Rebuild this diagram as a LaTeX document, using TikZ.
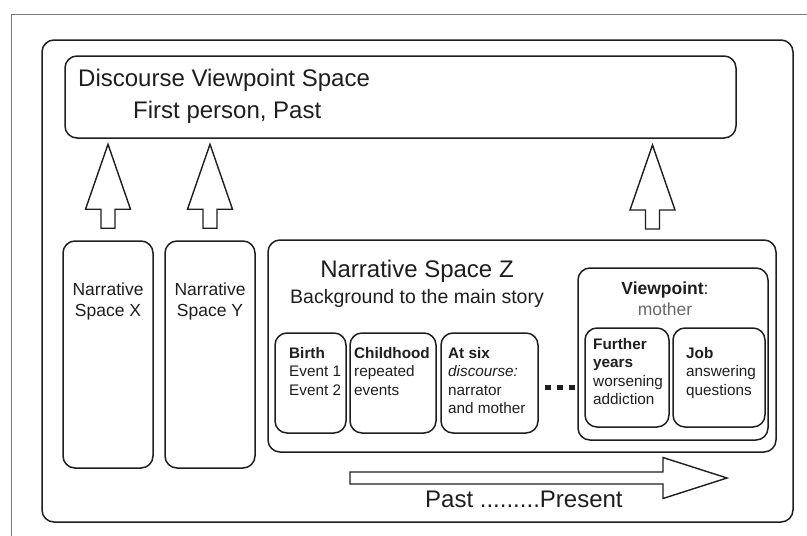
\documentclass[tikz,border=0pt]{standalone}
\usepackage{fontspec}
\setmainfont{Liberation Sans}
\usetikzlibrary{calc}
\definecolor{inkgray}{RGB}{30, 30, 30}
\definecolor{framegray}{RGB}{120, 120, 120}
\definecolor{mothergray}{RGB}{105, 105, 105}

% hollow upward block arrow, given the middle of its foot
\newcommand{\blockup}[1]{%
  \draw[blockarrow] #1 -- ++(-7,0) -- ++(0,-19) -- ++(-15.5,0) -- ++(22.5,-65)
    -- ++(22.5,65) -- ++(-15.5,0) -- ++(0,19) -- cycle;}

\begin{document}
\begin{tikzpicture}[
    x=1pt, y=-1pt,
    % Node styles
    spacebox/.style={
        rectangle,
        rounded corners=12pt,
        draw=inkgray,
        line width=1.5pt,
        inner sep=0pt
    },
    bigtext/.style={
        inner sep=0pt,
        text=inkgray,
        font=\fontsize{24}{28}\selectfont
    },
    midtext/.style={
        inner sep=0pt,
        text=inkgray,
        align=center,
        font=\fontsize{17.5}{21}\selectfont
    },
    smalltext/.style={
        inner sep=0pt,
        text=inkgray,
        align=left,
        font=\fontsize{15.3}{18.5}\selectfont
    },
    blockarrow/.style={
        draw=inkgray,
        line width=1.4pt,
        fill=white,
        line join=miter
    }
]
\useasboundingbox (0,0) rectangle (807,536);

% ============================================
% FRAME AND OUTER SPACES
% ============================================
\draw[framegray, line width=0.8pt] (11,14) rectangle (840,570);
\node[spacebox, minimum width=751pt, minimum height=482pt] (main) at (417.5,281) {};
\node[spacebox, minimum width=671pt, minimum height=82pt] (disc) at (400.5,97) {};
\node[bigtext, anchor=base west] (disctitle) at (78,86) {Discourse Viewpoint Space};
\node[bigtext, anchor=base west] (discsub) at (133,118) {First person, Past};

% ============================================
% NARRATIVE SPACES X AND Y
% (multi-line texts are placed by the baseline of their last line)
% ============================================
\node[spacebox, minimum width=90pt, minimum height=227pt] (nx) at (108,354.5) {};
\node[midtext, anchor=base] (nxlabel) at (108,316) {Narrative\\Space X};

\node[spacebox, minimum width=90pt, minimum height=227pt] (ny) at (210,354.5) {};
\node[midtext, anchor=base] (nylabel) at (210,316) {Narrative\\Space Y};

% ============================================
% NARRATIVE SPACE Z
% ============================================
\node[spacebox, minimum width=508pt, minimum height=212pt] (nz) at (522,346) {};
\node[bigtext, anchor=base] (nztitle) at (417,277) {Narrative Space Z};
\node[inner sep=0pt, text=inkgray, font=\fontsize{19.5}{22}\selectfont, anchor=base]
    (nzsub) at (417,303) {Background to the main story};

% events
\node[spacebox, minimum width=71pt, minimum height=100pt] (birth) at (310.5,383) {};
\node[smalltext, anchor=base west] (birthtext) at (289,395) {\textbf{Birth}\\Event 1\\Event 2};

\node[spacebox, minimum width=86pt, minimum height=100pt] (child) at (393,383) {};
\node[smalltext, anchor=base west] (childtext) at (354,395) {\textbf{Childhood}\\repeated\\events};

\node[spacebox, minimum width=97pt, minimum height=100pt] (atsix) at (489.5,383) {};
\node[smalltext, anchor=base west] (atsixtext) at (448,413.5)
    {\textbf{At six}\\\textit{discourse:}\\narrator\\and mother};

\foreach \dx in {545,557,569}
    \fill[inkgray] (\dx,385) rectangle ++(6,5);

% viewpoint of the mother
\node[spacebox, minimum width=190pt, minimum height=172pt] (vp) at (673,354) {};
\node[midtext, anchor=base] (vptext) at (665,315)
    {\textbf{Viewpoint}:\\\textcolor{mothergray}{mother}};

\node[spacebox, minimum width=84pt, minimum height=99pt] (further) at (627,377.5) {};
\node[smalltext, anchor=base west] (furthertext) at (593,404.5)
    {\textbf{Further}\\\textbf{years}\\worsening\\addiction};

\node[spacebox, minimum width=92pt, minimum height=99pt] (job) at (719,377.5) {};
\node[smalltext, anchor=base west] (jobtext) at (686,395) {\textbf{Job}\\answering\\questions};

% ============================================
% BLOCK ARROWS UP TO THE DISCOURSE SPACE
% ============================================
\coordinate (zup) at (652.5,229);
\blockup{($(nx.north)+(0,-12)$)}
\blockup{($(ny.north)+(0,-12)$)}
\blockup{(zup)}

% ============================================
% TIME LINE
% ============================================
\coordinate (timestart) at (350,478);
\draw[blockarrow] ($(timestart)+(0,-6)$) -- ++(313,0) -- ++(0,-14.5) -- ++(64,20.5)
    -- ++(-64,20.5) -- ++(0,-14.5) -- ++(-313,0) -- cycle;
\node[bigtext, anchor=base west] (timelabel) at (425,507) {Past .........Present};

\end{tikzpicture}
\end{document}
